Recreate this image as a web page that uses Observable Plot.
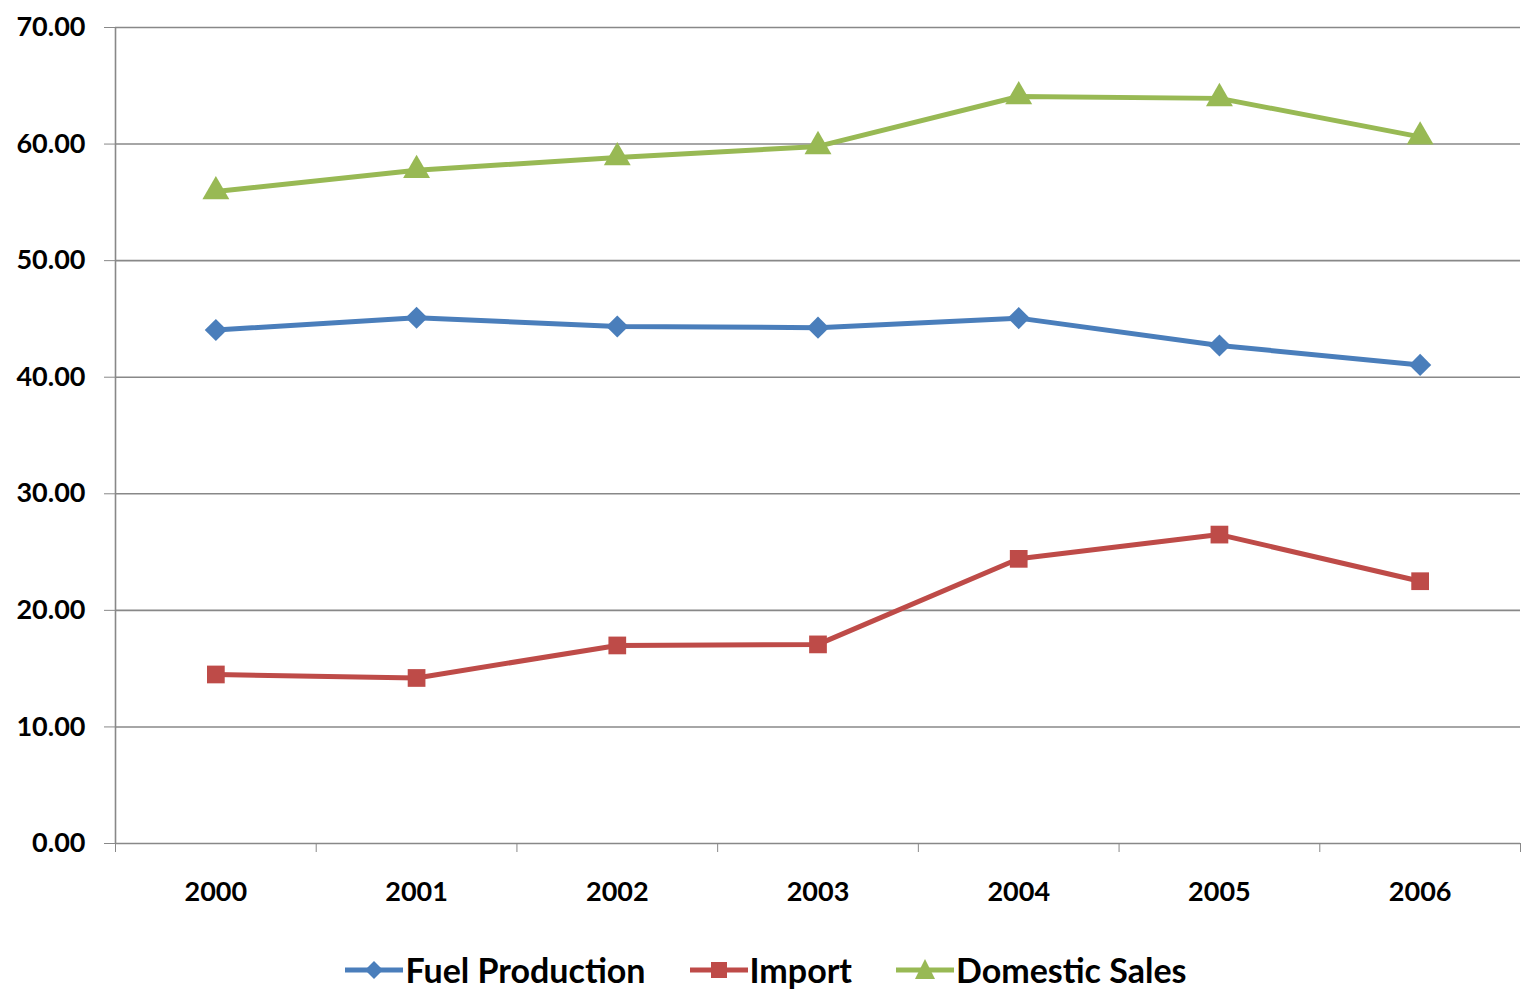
<!DOCTYPE html>
<html>
<head>
<meta charset="utf-8">
<script src="https://cdn.jsdelivr.net/npm/d3@7"></script>
<script src="https://cdn.jsdelivr.net/npm/@observablehq/plot@0.6"></script>
<style>
  html, body { margin: 0; padding: 0; background: #fff; }
  body { width: 1522px; height: 997px; overflow: hidden; font-family: Lato, "Open Sans", sans-serif; }
  #legend { display: flex; justify-content: center; align-items: center; height: 67px; margin-top: 6px; margin-left: 10px;
            font-family: Lato, sans-serif; font-weight: bold; font-size: 34px; color: #000; }
  .item { display: flex; align-items: center; margin: 0 22px; }
  .item svg { margin-right: 2px; }
</style>
</head>
<body>
<div id="chart"></div>
<div id="legend"></div>
<script>
const years = ["2000", "2001", "2002", "2003", "2004", "2005", "2006"];
const fuelProduction = [44.05, 45.1, 44.35, 44.25, 45.07, 42.72, 41.05];
const importValues = [14.5, 14.2, 16.99, 17.08, 24.42, 26.5, 22.5];
const domesticSales = [55.93, 57.75, 58.85, 59.8, 64.08, 63.92, 60.62];
const seriesNames = ["Fuel Production", "Import", "Domestic Sales"];
const seriesColors = ["#4a7ebb", "#be4b48", "#98b954"];
const seriesSymbols = ["diamond2", "square", "triangle"];
const yTicks = [0, 10, 20, 30, 40, 50, 60, 70];

const seriesValues = [fuelProduction, importValues, domesticSales];
const data = [];
seriesNames.forEach((s, k) => seriesValues[k].forEach((v, i) => data.push({series: s, idx: i, value: v})));
const idx = years.map((_, i) => i);
const bounds = [...idx.map(i => i - 0.5), years.length - 0.5];

const fontStyle = {fontSize: 27, fontWeight: "bold", fontFamily: "Lato, sans-serif", fill: "#000"};

const chart = Plot.plot({
  width: 1522,
  height: 930,
  marginLeft: 115,
  marginRight: 2,
  marginTop: 27,
  marginBottom: 87,
  x: {type: "linear", domain: [-0.5, years.length - 0.5], axis: null},
  y: {domain: [0, 70], axis: null},
  color: {domain: seriesNames, range: seriesColors},
  symbol: {domain: seriesNames, range: seriesSymbols},
  marks: [
    Plot.ruleY(yTicks, {stroke: "#888", strokeWidth: 1.6}),
    Plot.ruleX([-0.5], {y1: 0, y2: 70, stroke: "#888", strokeWidth: 1.6}),
    Plot.axisY({ticks: yTicks, tickSize: 11, tickPadding: 19, stroke: "#888", label: null, tickFormat: d3.format(".2f"), ...fontStyle}),
    Plot.axisX({ticks: bounds, tickSize: 9, stroke: "#888", label: null, tickFormat: () => ""}),
    Plot.axisX({ticks: idx, tickSize: 0, tickPadding: 38, label: null, tickFormat: i => years[i], ...fontStyle}),
    Plot.line(data, {x: "idx", y: "value", z: "series", stroke: "series", strokeWidth: 5}),
    Plot.dot(data, {x: "idx", y: "value", fill: "series", symbol: "series", r: 10, stroke: null})
  ]
});
document.getElementById("chart").appendChild(chart);

const legend = document.getElementById("legend");
const symPaths = {
  "diamond2": "M29,23 L38,32 L29,41 L20,32 Z",
  "square": "M21,24 H37 V40 H21 Z",
  "triangle": "M29,21 L39,41 H19 Z"
};
seriesNames.forEach((s, k) => {
  const el = document.createElement("div");
  el.className = "item";
  el.innerHTML = `<svg width="58" height="64"><line x1="0" x2="58" y1="32" y2="32" stroke="${seriesColors[k]}" stroke-width="5"/><path d="${symPaths[seriesSymbols[k]]}" fill="${seriesColors[k]}"/></svg><span>${s}</span>`;
  legend.appendChild(el);
});
</script>
</body>
</html>
